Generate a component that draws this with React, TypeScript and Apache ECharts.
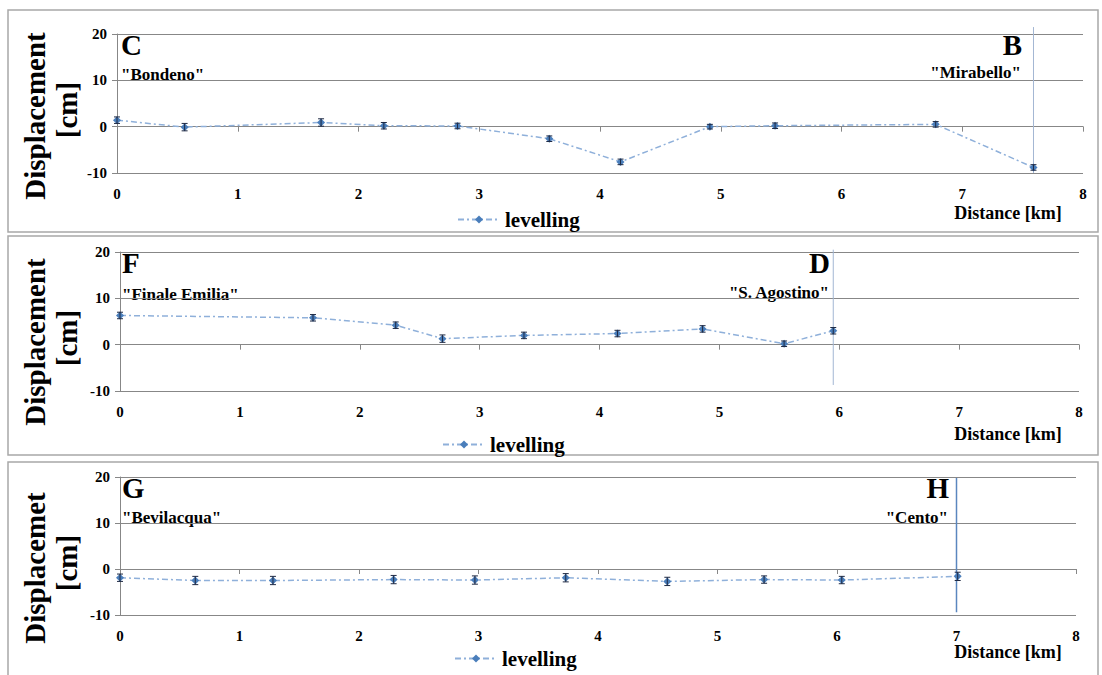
import React, { useEffect, useRef } from "react";
import * as echarts from "echarts";

// Panel 1: C "Bondeno" -> B "Mirabello"
const dist1 = [0, 0.56, 1.69, 2.21, 2.82, 3.58, 4.17, 4.91, 5.45, 6.78, 7.59];
const disp1 = [1.4, -0.1, 0.9, 0.2, 0.15, -2.6, -7.6, 0.0, 0.2, 0.5, -8.8];
const err1 = [0.7, 0.8, 0.8, 0.7, 0.6, 0.6, 0.6, 0.5, 0.6, 0.6, 0.6];

// Panel 2: F "Finale Emilia" -> D "S. Agostino"
const dist2 = [0, 1.61, 2.3, 2.69, 3.37, 4.15, 4.86, 5.54, 5.95];
const disp2 = [6.3, 5.8, 4.2, 1.3, 2.0, 2.4, 3.4, 0.2, 3.0];
const err2 = [0.7, 0.7, 0.7, 0.8, 0.7, 0.7, 0.7, 0.6, 0.7];

// Panel 3: G "Bevilacqua" -> H "Cento"
const dist3 = [0, 0.63, 1.28, 2.29, 2.97, 3.73, 4.58, 5.39, 6.04, 7.01];
const disp3 = [-1.9, -2.5, -2.5, -2.3, -2.4, -1.9, -2.7, -2.3, -2.4, -1.6];
const err3 = [0.8, 0.9, 0.9, 0.9, 0.9, 0.9, 0.9, 0.8, 0.8, 0.9];

// End-point vertical markers (distance, top value, bottom value)
const endX = [7.59, 5.95, 7.0];
const endTop = [21.5, 20.5, 19.8];
const endBottom = [-10, -8.7, -9.4];

const startLetters = ["C", "F", "G"];
const startNames = ['"Bondeno"', '"Finale Emilia"', '"Bevilacqua"'];
const endLetters = ["B", "D", "H"];
const endNames = ['"Mirabello"', '"S. Agostino"', '"Cento"'];
const yNames = ["Displacement", "Displacement", "Displacemet"];

const seriesName = "levelling";
const xAxisName = "Distance [km]";

const FONT = "Liberation Serif";

export default function App() {
  const ref = useRef<HTMLDivElement>(null);

  useEffect(() => {
    document.body.style.margin = "0";
    if (!ref.current) return;
    const chart = echarts.init(ref.current, undefined, { renderer: "svg" });

    const grids = [
      { left: 117, top: 34, width: 966, height: 139 },
      { left: 120, top: 252, width: 959, height: 139 },
      { left: 120, top: 477, width: 956, height: 138 },
    ];
    const panels = [
      { d: dist1, v: disp1, e: err1 },
      { d: dist2, v: disp2, e: err2 },
      { d: dist3, v: disp3, e: err3 },
    ];
    const panelBoxes = [
      { y: 10, h: 222 },
      { y: 236, h: 219 },
      { y: 462, h: 225 },
    ];
    const legendPos = [
      { left: 452, top: 204 },
      { left: 437, top: 429 },
      { left: 449, top: 643 },
    ];
    const namePos = [
      { y1: 116, y2: 110, dx: 213 },
      { y1: 342, y2: 338, dx: 434 },
      { y1: 568, y2: 563, dx: 652 },
    ];
    const letterPos = [
      { sx: 121, ly: 45, ny: 74, ex: 1022, ey: 72 },
      { sx: 122, ly: 263, ny: 294, ex: 830, ey: 292 },
      { sx: 122, ly: 488, ny: 517, ex: 949, ey: 517 },
    ];
    const endLineStyles = [
      { color: "#a3b7d3", width: 1 },
      { color: "#a3b7d3", width: 1 },
      { color: "#5a86bf", width: 1.5 },
    ];

    const xAxes: any[] = [];
    const yAxes: any[] = [];
    const series: any[] = [];
    const graphic: any[] = [];
    const legends: any[] = [];

    grids.forEach((g, i) => {
      const b = panelBoxes[i];
      graphic.push({
        type: "rect",
        shape: { x: 8, y: b.y, width: 1090, height: b.h },
        style: { fill: "none", stroke: "#a8a8a8", lineWidth: 1.5 },
        silent: true,
      });
      // label axis (bottom)
      xAxes.push({
        type: "value",
        gridIndex: i,
        min: 0,
        max: 8,
        interval: 1,
        position: "bottom",
        axisLine: { show: false, onZero: false },
        axisTick: { show: false },
        splitLine: { show: false },
        axisLabel: {
          color: "#000",
          fontFamily: FONT,
          fontWeight: "bold",
          fontSize: 15,
          margin: 13,
        },
      });
      // tick axis on zero line
      xAxes.push({
        type: "value",
        gridIndex: i,
        min: 0,
        max: 8,
        interval: 1,
        position: "bottom",
        axisLine: { show: true, onZero: true, lineStyle: { color: "#878787", width: 1 } },
        axisTick: { show: true, length: 5, lineStyle: { color: "#878787" } },
        splitLine: { show: false },
        axisLabel: { show: false },
      });
      yAxes.push({
        type: "value",
        gridIndex: i,
        min: -10,
        max: 20,
        interval: 10,
        axisLine: { show: true, lineStyle: { color: "#878787", width: 1 } },
        axisTick: { show: true, length: 5, lineStyle: { color: "#878787" } },
        splitLine: { show: true, lineStyle: { color: "#878787", width: 1 } },
        axisLabel: {
          color: "#000",
          fontFamily: FONT,
          fontWeight: "bold",
          fontSize: 15,
          margin: 10,
        },
      });

      const p = panels[i];
      const pts = p.d.map((x, k) => [x, p.v[k]]);
      series.push({
        name: seriesName,
        type: "line",
        xAxisIndex: i * 2,
        yAxisIndex: i,
        data: pts,
        symbol: "diamond",
        symbolSize: 8,
        itemStyle: { color: "#4a7ebb" },
        lineStyle: { color: "#8fb0da", width: 1.5, type: [6, 3, 2, 3] },
        z: 3,
      });
      series.push({
        name: "error" + i,
        type: "custom",
        xAxisIndex: i * 2,
        yAxisIndex: i,
        data: p.d.map((x, k) => [x, p.v[k], p.e[k]]),
        z: 4,
        renderItem: (params: any, api: any) => {
          const x = api.value(0);
          const y = api.value(1);
          const e = api.value(2);
          const top = api.coord([x, y + e]);
          const bot = api.coord([x, y - e]);
          const w = 3;
          const st = { stroke: "#1f2a44", lineWidth: 1 };
          return {
            type: "group",
            children: [
              { type: "line", shape: { x1: top[0], y1: top[1], x2: bot[0], y2: bot[1] }, style: st },
              { type: "line", shape: { x1: top[0] - w, y1: top[1], x2: top[0] + w, y2: top[1] }, style: st },
              { type: "line", shape: { x1: bot[0] - w, y1: bot[1], x2: bot[0] + w, y2: bot[1] }, style: st },
            ],
          };
        },
      });
      series.push({
        name: "end" + i,
        type: "line",
        xAxisIndex: i * 2,
        yAxisIndex: i,
        data: [
          [endX[i], endTop[i]],
          [endX[i], endBottom[i]],
        ],
        symbol: "none",
        clip: false,
        lineStyle: { color: endLineStyles[i].color, width: endLineStyles[i].width },
        z: 2,
      });

      legends.push({
        left: legendPos[i].left,
        top: legendPos[i].top,
        data: [seriesName],
        itemWidth: 42,
        itemHeight: 10,
        itemGap: 5,
        selectedMode: false,
        textStyle: { color: "#000", fontFamily: FONT, fontWeight: "bold", fontSize: 21 },
      });

      const np = namePos[i];
      graphic.push({
        type: "text",
        x: 35,
        y: np.y1,
        rotation: Math.PI / 2,
        style: {
          text: yNames[i],
          font: `bold 29px ${FONT}`,
          fill: "#000",
          align: "center",
          verticalAlign: "middle",
        },
        silent: true,
      });
      graphic.push({
        type: "text",
        x: 67,
        y: np.y2,
        rotation: Math.PI / 2,
        style: {
          text: "[cm]",
          font: `bold 29px ${FONT}`,
          fill: "#000",
          align: "center",
          verticalAlign: "middle",
        },
        silent: true,
      });
      graphic.push({
        type: "text",
        x: 1008,
        y: np.dx,
        style: {
          text: xAxisName,
          font: `bold 18px ${FONT}`,
          fill: "#000",
          align: "center",
          verticalAlign: "middle",
        },
        silent: true,
      });
      const lp = letterPos[i];
      graphic.push({
        type: "text",
        x: lp.sx,
        y: lp.ly,
        style: { text: startLetters[i], font: `bold 29px ${FONT}`, fill: "#000", align: "left", verticalAlign: "middle" },
        silent: true,
      });
      graphic.push({
        type: "text",
        x: lp.sx,
        y: lp.ny,
        style: { text: startNames[i], font: `bold 17px ${FONT}`, fill: "#000", align: "left", verticalAlign: "middle" },
        silent: true,
      });
      graphic.push({
        type: "text",
        x: lp.ex,
        y: lp.ly,
        style: { text: endLetters[i], font: `bold 29px ${FONT}`, fill: "#000", align: "right", verticalAlign: "middle" },
        silent: true,
      });
      graphic.push({
        type: "text",
        x: lp.ex - 1,
        y: lp.ey,
        style: { text: endNames[i], font: `bold 17px ${FONT}`, fill: "#000", align: "right", verticalAlign: "middle" },
        silent: true,
      });
    });

    chart.setOption({
      animation: false,
      backgroundColor: "#fff",
      grid: grids,
      xAxis: xAxes,
      yAxis: yAxes,
      series,
      legend: legends,
      graphic,
    });

    return () => chart.dispose();
  }, []);

  return <div ref={ref} style={{ width: 1102, height: 675 }} />;
}
